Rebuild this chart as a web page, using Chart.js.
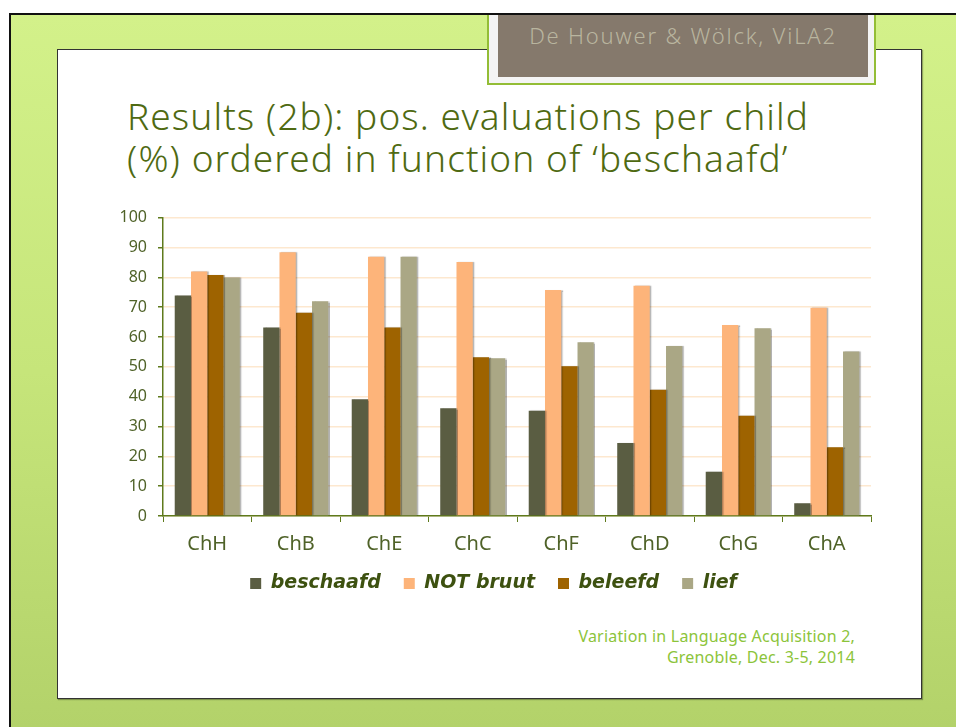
<!DOCTYPE html>
<html lang="en">
<head>
    <meta charset="UTF-8">
    <title>Results (2b): pos. evaluations per child</title>
    <script src="https://cdn.jsdelivr.net/npm/chart.js"></script>
    <style>
        body {
            margin: 0;
            width: 956px;
            height: 727px;
            position: relative;
            overflow: hidden;
            background: #fff;
            font-family: "Noto Sans", sans-serif;
        }
        .frame {
            position: absolute;
            left: 9px;
            top: 13px;
            right: 0;
            bottom: 0;
            border-left: 2px solid #111;
            border-top: 2px solid #111;
            background: linear-gradient(180deg, #d3f18a 0%, #c6e57a 50%, #b3d26a 100%);
        }
        .slide {
            position: absolute;
            left: 57px;
            top: 49px;
            width: 863px;
            height: 648px;
            background: #fff;
            border: 1px solid #333;
            box-shadow: 1px 1px 1px rgba(0,0,0,0.3);
        }
        .tag {
            position: absolute;
            left: 487px;
            top: 15px;
            width: 385px;
            height: 68px;
            background: #f4f4f4;
            border: 2px solid #93bd36;
            border-top: none;
        }
        .tag div {
            position: absolute;
            left: 9px;
            top: 0;
            width: 370px;
            height: 62px;
            background: #85796c;
            color: #b9b59f;
            font-size: 22px;
            font-weight: 300;
            letter-spacing: 1.8px;
            text-align: center;
            line-height: 40px;
        }
        h1 {
            position: absolute;
            left: 127px;
            top: 95px;
            margin: 0;
            font-size: 37px;
            font-weight: 300;
            letter-spacing: 1.1px;
            line-height: 42px;
            color: #4f6a12;
        }
        .footer {
            position: absolute;
            right: 101px;
            top: 626px;
            text-align: right;
            font-size: 16px;
            letter-spacing: 0.2px;
            line-height: 21px;
            color: #8cc43a;
        }
        #chart {
            position: absolute;
            left: 100px;
            top: 197px;
        }
    </style>
</head>
<body>
    <div class="frame"></div>
    <div class="slide"></div>
    <div class="tag"><div>De Houwer &amp; Wölck, ViLA2</div></div>
    <h1>Results (2b): pos. evaluations per child<br>(%) ordered in function of ‘beschaafd’</h1>
    <div class="footer">Variation in Language Acquisition 2,<br>Grenoble, Dec. 3-5, 2014</div>
    <canvas id="chart" width="790" height="406"></canvas>
    <script>
        const children = ['ChH', 'ChB', 'ChE', 'ChC', 'ChF', 'ChD', 'ChG', 'ChA'];
        const beschaafd = [73.9, 63.2, 39.1, 36.1, 35.3, 24.5, 14.8, 4.3];
        const notBruut = [81.9, 88.4, 86.9, 85.1, 75.7, 77.2, 64.0, 69.8];
        const beleefd = [80.8, 68.1, 63.2, 53.2, 50.2, 42.3, 33.6, 23.0];
        const lief = [79.9, 72.0, 86.9, 52.9, 58.2, 57.0, 62.9, 55.1];

        const olive = '#5f7a1c';
        const labelColor = '#4f6228';

        // soft shadow behind the bars, like the slide's chart
        const barShadow = {
            id: 'barShadow',
            beforeDatasetsDraw(chart) {
                const ctx = chart.ctx;
                ctx.save();
                ctx.shadowColor = 'rgba(0,0,0,0.3)';
                ctx.shadowOffsetX = 1.5;
                ctx.shadowOffsetY = 0;
                ctx.shadowBlur = 1;
            },
            afterDatasetsDraw(chart) {
                chart.ctx.restore();
            }
        };

        new Chart(document.getElementById('chart'), {
            type: 'bar',
            data: {
                labels: children,
                datasets: [
                    { label: 'beschaafd', data: beschaafd, backgroundColor: '#5a5d42' },
                    { label: 'NOT bruut', data: notBruut, backgroundColor: '#fdb47a' },
                    { label: 'beleefd', data: beleefd, backgroundColor: '#9e6300' },
                    { label: 'lief', data: lief, backgroundColor: '#aaa785' }
                ]
            },
            options: {
                responsive: false,
                animation: false,
                layout: { padding: { top: 14, right: 19, left: 16, bottom: 0 } },
                datasets: {
                    bar: { categoryPercentage: 0.735, barPercentage: 1.0 }
                },
                plugins: {
                    tooltip: { enabled: false },
                    legend: {
                        position: 'bottom',
                        labels: {
                            boxWidth: 11,
                            boxHeight: 11,
                            padding: 23,
                            color: '#3d5110',
                            font: { family: '"DejaVu Sans", sans-serif', size: 19, weight: 'bold', style: 'italic' }
                        }
                    }
                },
                scales: {
                    x: {
                        afterFit: s => { s.height = 35; },
                        border: { color: olive, width: 1.5 },
                        grid: { drawOnChartArea: false, offset: true, tickColor: olive, tickLength: 6 },
                        ticks: { color: labelColor, padding: 10, font: { family: '"Noto Sans", sans-serif', size: 20 } }
                    },
                    y: {
                        min: 0,
                        max: 100,
                        afterFit: s => { s.width = 47; },
                        border: { color: olive, width: 1.5 },
                        grid: { color: '#fde8cf', lineWidth: 1.5, tickColor: olive, tickLength: 5 },
                        ticks: { stepSize: 10, color: labelColor, padding: 11, font: { family: '"Noto Sans", sans-serif', size: 16 } }
                    }
                }
            },
            plugins: [barShadow]
        });
    </script>
</body>
</html>
